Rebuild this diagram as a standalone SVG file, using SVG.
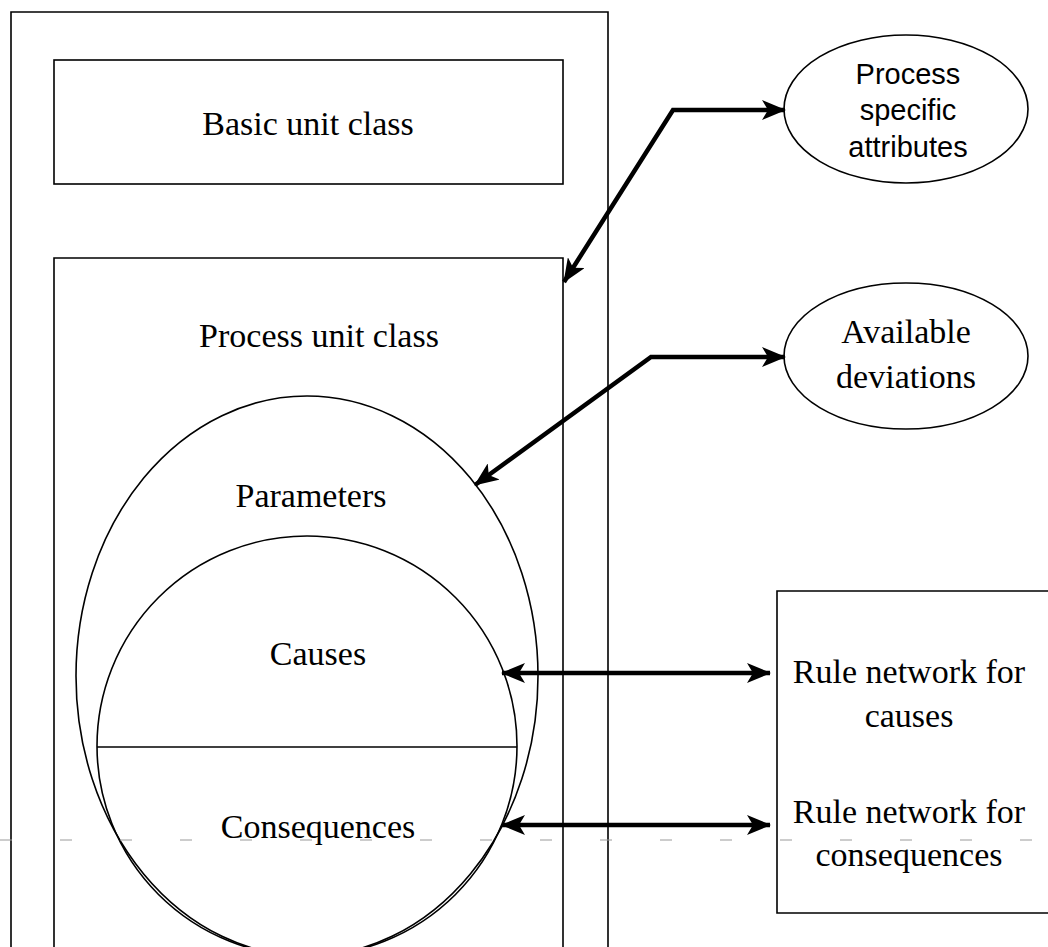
<svg xmlns="http://www.w3.org/2000/svg" width="1048" height="947" viewBox="0 0 1048 947">
  <style>
    .box { fill: none; stroke: #000; stroke-width: 1.6; }
    .serif { font-family: "Liberation Serif", "Times New Roman", serif; font-size: 34px; fill: #000; text-anchor: middle; }
    .sans { font-family: "Liberation Sans", Arial, sans-serif; font-size: 29px; fill: #000; text-anchor: middle; }
    .link { fill: none; stroke: #000; stroke-width: 4.5; stroke-linejoin: miter; }
    .scan { fill: none; stroke: #9a9a9a; stroke-width: 1; stroke-dasharray: 12 48; }
  </style>
  <defs>
    <marker id="head" viewBox="0 0 24 20" refX="23" refY="10" markerWidth="24" markerHeight="20" markerUnits="userSpaceOnUse" orient="auto-start-reverse">
      <path d="M0,0 L24,10 L0,20 L6,10 z" fill="#000"/>
    </marker>
  </defs>

  <rect width="1048" height="947" fill="#fff"/>

  <!-- outer unit container -->
  <g id="unit-frame">
    <path class="box" d="M11,960 V12 H608 V960"/>
  </g>

  <g id="basic-unit">
    <rect class="box" x="54" y="60" width="509" height="124"/>
    <text class="serif" x="308" y="135">Basic unit class</text>
  </g>

  <g id="process-unit">
    <path class="box" d="M54,960 V258 H563 V960"/>
    <text class="serif" x="319" y="347">Process unit class</text>
  </g>

  <g id="parameters">
    <ellipse class="box" cx="307" cy="676" rx="231" ry="280"/>
    <text class="serif" x="311" y="507">Parameters</text>
  </g>

  <g id="causes-consequences">
    <circle class="box" cx="307" cy="746" r="210"/>
    <line class="box" x1="97" y1="747" x2="517" y2="747"/>
    <text class="serif" x="318" y="665">Causes</text>
    <text class="serif" x="318" y="838">Consequences</text>
  </g>

  <g id="process-attributes">
    <ellipse class="box" cx="906" cy="109" rx="122" ry="74"/>
    <text class="sans" x="908" y="84">Process</text>
    <text class="sans" x="908" y="120">specific</text>
    <text class="sans" x="908" y="157">attributes</text>
  </g>

  <g id="available-deviations">
    <ellipse class="box" cx="906" cy="356" rx="122" ry="73"/>
    <text class="serif" x="906" y="343">Available</text>
    <text class="serif" x="906" y="388">deviations</text>
  </g>

  <g id="rule-networks">
    <path class="box" d="M1060,591 H777 V913 H1060"/>
    <text class="serif" x="909" y="683">Rule network for</text>
    <text class="serif" x="909" y="727">causes</text>
    <text class="serif" x="909" y="823">Rule network for</text>
    <text class="serif" x="909" y="866">consequences</text>
  </g>

  <!-- faint scan streak across the lower part -->
  <line class="scan" x1="0" y1="840" x2="1048" y2="840"/>

  <g id="connectors">
    <path class="link" d="M564,282 L673,110 L785,110" marker-start="url(#head)" marker-end="url(#head)"/>
    <path class="link" d="M475,485 L651,357 L785,357" marker-start="url(#head)" marker-end="url(#head)"/>
    <path class="link" d="M502,673 L770,673" marker-start="url(#head)" marker-end="url(#head)"/>
    <path class="link" d="M502,825 L770,825" marker-start="url(#head)" marker-end="url(#head)"/>
  </g>
</svg>
